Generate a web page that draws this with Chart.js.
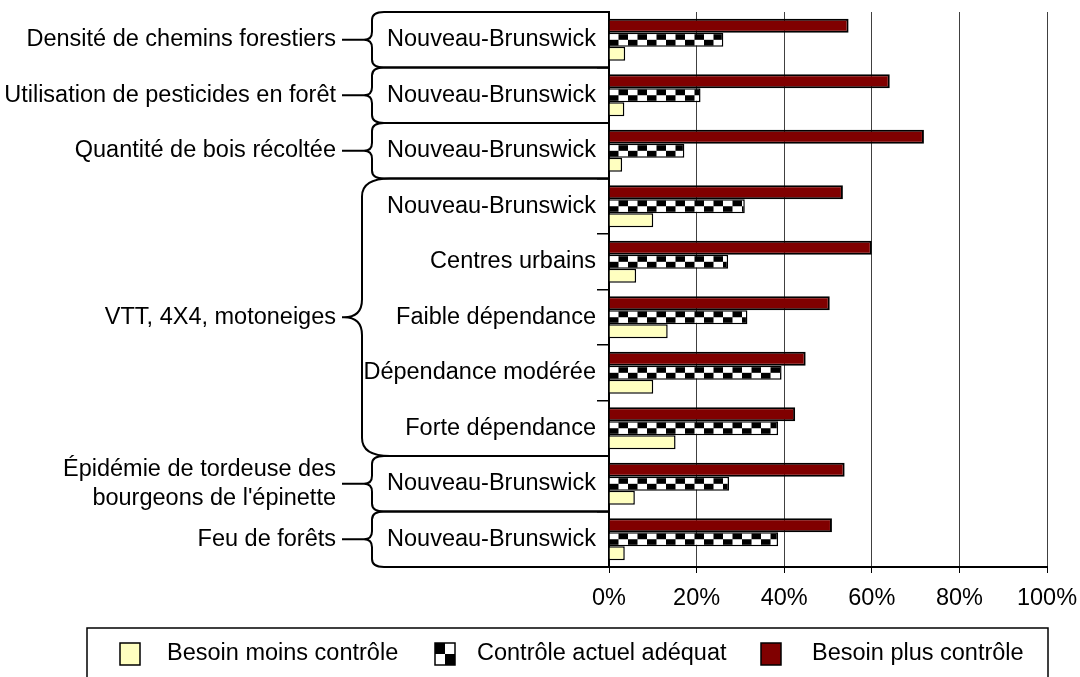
<!DOCTYPE html>
<html>
<head>
<meta charset="utf-8">
<script src="https://cdn.jsdelivr.net/npm/chart.js@4/dist/chart.umd.min.js"></script>
<style>
  html, body { margin: 0; padding: 0; background: #fff; }
  canvas { display: block; }
</style>
</head>
<body>
<canvas id="chart" width="1080" height="677"></canvas>
<script>
// sub-category labels (y axis, top to bottom)
const categories = ['Nouveau-Brunswick', 'Nouveau-Brunswick', 'Nouveau-Brunswick',
  'Nouveau-Brunswick', 'Centres urbains', 'Faible dépendance', 'Dépendance modérée',
  'Forte dépendance', 'Nouveau-Brunswick', 'Nouveau-Brunswick'];

// outer groups with the braces
const groupLabels = [['Densité de chemins forestiers'], ['Utilisation de pesticides en forêt'],
  ['Quantité de bois récoltée'], ['VTT, 4X4, motoneiges'],
  ['Épidémie de tordeuse des', "bourgeons de l'épinette"], ['Feu de forêts']];
const groupFirst = [0, 1, 2, 3, 8, 9];
const groupLast = [0, 1, 2, 7, 8, 9];

// values in %
const besoinPlus = [54.7, 64.1, 71.9, 53.4, 60.0, 50.4, 44.9, 42.5, 53.8, 50.9];
const controleActuel = [26.1, 20.9, 17.2, 31.0, 27.2, 31.6, 39.4, 38.6, 27.4, 38.6];
const besoinMoins = [3.7, 3.5, 3.0, 10.1, 6.2, 13.4, 10.1, 15.2, 5.9, 3.6];

const seriesNames = ['Besoin plus contrôle', 'Contrôle actuel adéquat', 'Besoin moins contrôle'];
const xTicks = [0, 20, 40, 60, 80, 100];

const FONT = '"Liberation Sans", Arial, sans-serif';
const FSIZE = 23.5;
Chart.defaults.font.family = FONT;
Chart.defaults.font.size = FSIZE;
Chart.defaults.color = '#000';

// checker tile for the middle series
const tile = document.createElement('canvas');
tile.width = 19; tile.height = 14;
(function () {
  const g = tile.getContext('2d');
  g.fillStyle = '#fff'; g.fillRect(0, 0, 19, 14);
  g.fillStyle = '#000';
  g.fillRect(9.5, 0, 9.5, 7);
  g.fillRect(0, 7, 9.5, 7);
})();

function checkFill(ctx) {
  const chart = ctx.chart;
  const ys = chart.scales.y;
  if (!ys || ctx.dataIndex === undefined || !chart.chartArea) return '#777';
  const p = chart.ctx.createPattern(tile, 'repeat');
  p.setTransform(new DOMMatrix().translate(chart.chartArea.left, ys.getPixelForValue(ctx.dataIndex) - 7));
  return p;
}

const bracesPlugin = {
  id: 'braces',
  afterDraw(chart) {
    const ctx = chart.ctx;
    const area = chart.chartArea;
    const rowH = (area.bottom - area.top) / categories.length;
    ctx.save();
    ctx.strokeStyle = '#000';
    ctx.lineWidth = 2;
    ctx.fillStyle = '#000';
    ctx.font = FSIZE + 'px ' + FONT;
    ctx.textAlign = 'right';
    ctx.textBaseline = 'middle';
    for (let g = 0; g < groupLabels.length; g++) {
      const yTop = area.top + groupFirst[g] * rowH;
      const yBot = area.top + (groupLast[g] + 1) * rowH;
      const mid = (yTop + yBot) / 2;
      const big = groupLast[g] > groupFirst[g];
      const r = big ? 18 : 8;
      const bodyX = big ? 362 : 372;
      const endX = big ? 390 : 384;
      const tipX = 342;
      ctx.beginPath();
      ctx.moveTo(area.left, yTop);
      ctx.lineTo(endX, yTop);
      ctx.quadraticCurveTo(bodyX, yTop, bodyX, yTop + r);
      ctx.lineTo(bodyX, mid - r);
      ctx.quadraticCurveTo(bodyX, mid, bodyX - r, mid);
      ctx.lineTo(tipX, mid);
      ctx.moveTo(bodyX - r, mid);
      ctx.quadraticCurveTo(bodyX, mid, bodyX, mid + r);
      ctx.lineTo(bodyX, yBot - r);
      ctx.quadraticCurveTo(bodyX, yBot, endX, yBot);
      ctx.lineTo(area.left, yBot);
      ctx.stroke();

      const lines = groupLabels[g];
      const lh = 29;
      lines.forEach((t, i) => {
        ctx.fillText(t, tipX - 6, mid + (i - (lines.length - 1) / 2) * lh);
      });
    }

    // legend box
    ctx.lineWidth = 1.5;
    ctx.strokeRect(87, 628, 961, 80);
    const order = [2, 1, 0];
    const boxX = [120, 435, 761];
    const textX = [167, 477, 812];
    const ly = 654;
    ctx.textAlign = 'left';
    order.forEach((d, i) => {
      const bx = boxX[i], by = ly - 11;
      if (d === 1) {
        ctx.fillStyle = '#fff'; ctx.fillRect(bx, by, 20, 22);
        ctx.fillStyle = '#000';
        ctx.fillRect(bx, by, 10, 11);
        ctx.fillRect(bx + 10, by + 11, 10, 11);
      } else {
        ctx.fillStyle = chart.data.datasets[d].backgroundColor;
        ctx.fillRect(bx, by, 20, 22);
      }
      ctx.strokeStyle = '#000';
      ctx.lineWidth = 1.5;
      ctx.strokeRect(bx, by, 20, 22);
      ctx.fillStyle = '#000';
      ctx.fillText(seriesNames[d], textX[i], ly);
    });
    ctx.restore();
  }
};

new Chart(document.getElementById('chart'), {
  type: 'bar',
  data: {
    labels: categories,
    datasets: [
      { label: seriesNames[0], data: besoinPlus, backgroundColor: '#800000',
        borderColor: '#000', borderWidth: 2 },
      { label: seriesNames[1], data: controleActuel, backgroundColor: checkFill,
        borderColor: '#000', borderWidth: 1.5 },
      { label: seriesNames[2], data: besoinMoins, backgroundColor: '#FFFFC0',
        borderColor: '#000', borderWidth: 1.5 }
    ]
  },
  options: {
    indexAxis: 'y',
    responsive: false,
    animation: false,
    categoryPercentage: 0.76,
    barPercentage: 1,
    layout: { padding: { top: 12, right: 33, bottom: 70, left: 0 } },
    plugins: { legend: { display: false }, tooltip: { enabled: false } },
    scales: {
      x: {
        min: 0, max: 100,
        afterFit: s => { s.height = 40; s.paddingRight = 0; s.paddingLeft = 0; },
        afterBuildTicks: s => { s.ticks = xTicks.map(v => ({ value: v })); },
        ticks: { padding: 11, callback: v => v + '%', maxRotation: 0 },
        grid: { color: '#404040', lineWidth: 1, tickLength: 6, tickColor: '#000' },
        border: { color: '#000', width: 2 }
      },
      y: {
        z: 1,
        afterFit: s => { s.width = 609; s.paddingTop = 0; s.paddingBottom = 0; },
        ticks: { padding: 1, autoSkip: false },
        grid: { drawOnChartArea: false, tickLength: 12, color: '#000', lineWidth: 1.5, offset: true },
        border: { color: '#000', width: 2 }
      }
    }
  },
  plugins: [bracesPlugin]
});
</script>
</body>
</html>
